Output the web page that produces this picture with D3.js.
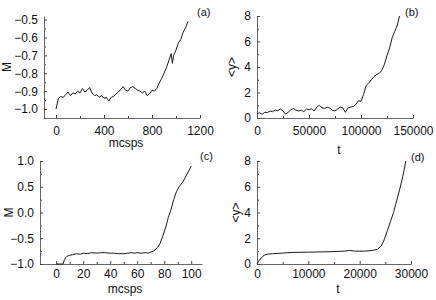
<!DOCTYPE html>
<html>
<head>
<meta charset="utf-8">
<script src="https://cdnjs.cloudflare.com/ajax/libs/d3/7.8.5/d3.min.js"></script>
<style>
  body { margin: 0; background: #fff; }
  svg { display: block; }
  text { font-family: "Liberation Sans", Arial, sans-serif; fill: #111; }
  .domain { stroke: #666; }
  .tick line { stroke: #444; }
</style>
</head>
<body>
<div id="chart"></div>
<script>
// (a) magnetisation vs mcsps
var aX = [0,20,40,60,80,100,120,140,160,180,200,220,240,260,280,300,320,340,360,380,400,420,440,460,480,500,520,540,560,580,600,620,640,660,680,700,720,740,760,780,800,820,840,860,880,900,920,940,960,970,980,1000,1020,1040,1060,1080,1100];
var aM = [-1.00,-0.94,-0.93,-0.935,-0.92,-0.905,-0.925,-0.91,-0.915,-0.90,-0.91,-0.885,-0.905,-0.895,-0.88,-0.91,-0.925,-0.92,-0.935,-0.925,-0.94,-0.935,-0.955,-0.935,-0.93,-0.915,-0.905,-0.89,-0.875,-0.895,-0.90,-0.88,-0.875,-0.885,-0.895,-0.90,-0.91,-0.90,-0.925,-0.915,-0.895,-0.90,-0.885,-0.855,-0.83,-0.80,-0.77,-0.73,-0.69,-0.745,-0.70,-0.67,-0.63,-0.61,-0.57,-0.545,-0.51];

// (b) <y> vs t
var bT = [0,2500,5000,7500,10000,12500,15000,17500,20000,22500,25000,27500,30000,32500,35000,37500,40000,42500,45000,47500,50000,52500,55000,57500,60000,62500,65000,67500,70000,72500,75000,77500,80000,82500,85000,87500,90000,92500,95000,97500,100000,102500,105000,107500,110000,112500,115000,117500,120000,122500,125000,127500,130000,132500,135000,137000];
var bY = [0.35,0.40,0.30,0.45,0.42,0.55,0.50,0.62,0.58,0.70,0.55,0.30,0.45,0.65,0.75,0.60,0.55,0.62,0.50,0.70,0.65,0.72,0.55,0.85,1.00,0.80,0.75,0.85,0.78,0.60,0.55,0.70,0.85,0.80,0.45,0.80,0.85,0.90,1.05,1.35,1.30,1.85,2.55,2.75,3.00,3.25,3.40,3.50,3.75,4.20,4.90,5.50,6.30,6.80,7.30,8.00];

// (c) magnetisation vs mcsps
var cX = [0,5,6,7,8,10,12,15,18,20,23,26,30,33,36,40,43,46,50,53,56,58,60,63,66,68,70,72,75,77,79,81,83,85,87,89,91,94,97,100];
var cM = [-1.00,-1.00,-0.93,-0.88,-0.85,-0.83,-0.82,-0.80,-0.81,-0.79,-0.80,-0.78,-0.79,-0.78,-0.78,-0.79,-0.79,-0.80,-0.80,-0.79,-0.78,-0.79,-0.78,-0.79,-0.78,-0.79,-0.77,-0.75,-0.68,-0.60,-0.45,-0.30,-0.10,0.05,0.25,0.40,0.50,0.60,0.75,0.90];

// (d) <y> vs t
var dT = [0,500,1000,1500,2000,3000,5000,7000,10000,14000,17000,18000,19000,21000,22500,23500,24200,24800,25400,26000,26600,27200,27800,28400,29000];
var dY = [0,0.30,0.55,0.70,0.76,0.80,0.85,0.90,0.92,0.95,1.00,1.05,1.00,1.00,1.05,1.15,1.40,1.90,2.60,3.30,4.00,4.90,5.80,6.80,8.00];

var panels = [
  { xs: aX, ys: aM, xr: [44, 200], yr: [118, 16], xd: [-100, 1200], yd: [-1.05, -0.48],
    xt: [0,400,800,1200], xm: [200,600,1000], yt: [-1.0,-0.9,-0.8,-0.7,-0.6,-0.5], ym: [-1.05,-0.95,-0.85,-0.75,-0.65,-0.55],
    yf: d3.format(".1f"), xl: "mcsps", yl: "M", tag: "(a)", pad: 8, xlY: 147, ylX: 11, tagX: 197, tagY: 16 },
  { xs: bT, ys: bY, xr: [257, 413], yr: [118, 16], xd: [0, 150000], yd: [0, 8],
    xt: [0,50000,100000,150000], xm: [25000,75000,125000], yt: [0,2,4,6,8], ym: [1,3,5,7],
    yf: d3.format("d"), xl: "t", yl: "<y>", tag: "(b)", pad: 8, xlY: 154, ylX: 236, tagX: 405, tagY: 16 },
  { xs: cX, ys: cM, xr: [40, 202], yr: [264, 161], xd: [-12, 108], yd: [-1, 1],
    xt: [0,20,40,60,80,100], xm: [10,30,50,70,90], yt: [-1.0,-0.5,0.0,0.5,1.0], ym: [-0.75,-0.25,0.25,0.75],
    yf: d3.format(".1f"), xl: "mcsps", yl: "M", tag: "(c)", pad: 5, xlY: 293, ylX: 13, tagX: 200, tagY: 160 },
  { xs: dT, ys: dY, xr: [257, 411], yr: [264, 161], xd: [0, 30000], yd: [0, 8],
    xt: [0,10000,20000,30000], xm: [5000,15000,25000], yt: [0,2,4,6,8], ym: [1,3,5,7],
    yf: d3.format("d"), xl: "t", yl: "<y>", tag: "(d)", pad: 5, xlY: 293, ylX: 240, tagX: 411, tagY: 161 }
];

var svg = d3.select("#chart").append("svg")
  .attr("width", 436)
  .attr("height", 300);

panels.forEach(function(p) {
  var x = d3.scaleLinear().domain(p.xd).range(p.xr);
  var y = d3.scaleLinear().domain(p.yd).range(p.yr);
  var g = svg.append("g");

  // minor ticks first, no labels
  g.append("g")
    .attr("transform", `translate(0, ${p.yr[0]})`)
    .call(d3.axisBottom(x).tickValues(p.xm).tickFormat("").tickSizeInner(-2).tickSizeOuter(0))
    .call(s => s.select(".domain").remove());
  g.append("g")
    .attr("transform", `translate(${p.xr[0]}, 0)`)
    .call(d3.axisLeft(y).tickValues(p.ym).tickFormat("").tickSizeInner(-2).tickSizeOuter(0))
    .call(s => s.select(".domain").remove());

  g.append("g")
    .attr("transform", `translate(0, ${p.yr[0]})`)
    .call(d3.axisBottom(x).tickValues(p.xt).tickFormat(d3.format("d")).tickSizeInner(-3).tickSizeOuter(0).tickPadding(p.pad));
  g.append("g")
    .attr("transform", `translate(${p.xr[0]}, 0)`)
    .call(d3.axisLeft(y).tickValues(p.yt).tickFormat(p.yf).tickSizeInner(-3).tickSizeOuter(0).tickPadding(6));
  g.selectAll(".tick text").style("font-size", "12px").style("font-family", "Liberation Sans, Arial, sans-serif").attr("fill", "#111");

  var line = d3.line()
    .x((d, i) => x(p.xs[i]))
    .y(d => y(d));

  g.append("path")
    .datum(p.ys)
    .attr("d", line)
    .attr("fill", "none")
    .attr("stroke", "#1a1a1a")
    .attr("stroke-width", 1);

  g.append("text")
    .attr("x", (p.xr[0] + p.xr[1]) / 2 + 4)
    .attr("y", p.xlY)
    .attr("text-anchor", "middle")
    .style("font-size", "12px")
    .text(p.xl);

  g.append("text")
    .attr("transform", `translate(${p.ylX}, ${(p.yr[0] + p.yr[1]) / 2}) rotate(-90)`)
    .attr("text-anchor", "middle")
    .style("font-size", "12px")
    .text(p.yl);

  g.append("text")
    .attr("x", p.tagX)
    .attr("y", p.tagY)
    .style("font-size", "11px")
    .text(p.tag);
});
</script>
</body>
</html>
